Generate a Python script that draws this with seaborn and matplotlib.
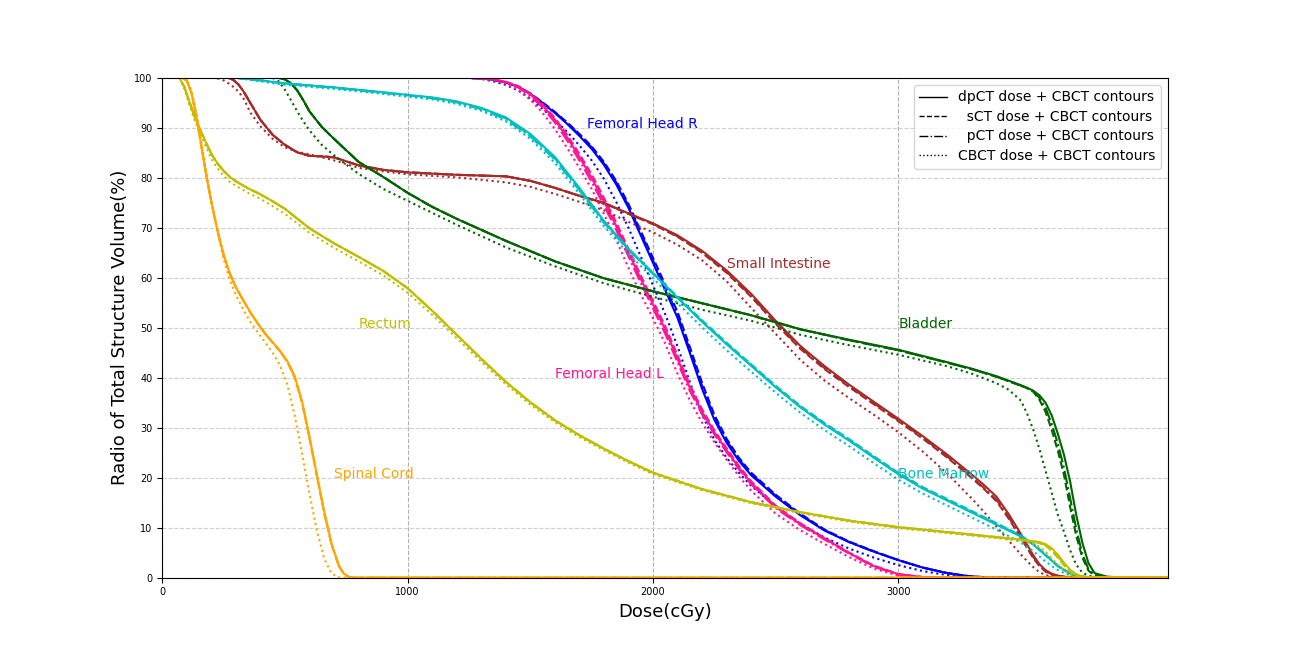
import pandas as pd
import matplotlib
matplotlib.use("Agg")
import matplotlib.pyplot as plt
from matplotlib.lines import Line2D
import seaborn as sns

# Spinal Cord
sp_dose = [0, 80, 100, 120, 140, 160, 180, 200, 225, 250, 275, 300, 330, 360, 390, 420, 450, 480, 510, 540, 570, 600, 630, 660, 690, 720, 740, 760, 780, 4100]
sp_dp = [100, 100, 99.5, 96.8, 92.0, 86.2, 80.3, 75.2, 69.5, 64.6, 60.9, 58.1, 55.5, 53.0, 50.8, 48.8, 47.1, 45.4, 43.3, 40.3, 35.2, 28.2, 20.6, 13.2, 6.8, 2.4, 0.8, 0.15, 0, 0]
sp_s = [100, 100, 99.5, 96.8, 92.0, 86.2, 80.3, 75.2, 69.5, 64.6, 60.9, 58.1, 55.5, 53.0, 50.8, 48.8, 47.0, 45.3, 43.1, 40.0, 34.9, 27.9, 20.3, 13.0, 6.6, 2.3, 0.7, 0.1, 0, 0]
sp_p = [100, 100, 99.5, 96.8, 92.0, 86.2, 80.3, 75.2, 69.5, 64.6, 60.9, 58.1, 55.5, 53.0, 50.8, 48.8, 47.0, 45.3, 43.2, 40.2, 35.1, 28.1, 20.5, 13.1, 6.7, 2.3, 0.8, 0.1, 0, 0]
sp_cb = [100, 100, 99.6, 97.3, 92.8, 87.0, 81.0, 75.3, 69.2, 63.8, 59.6, 56.6, 53.6, 51.1, 49.0, 47.0, 45.0, 42.5, 38.6, 32.4, 24.8, 16.8, 9.4, 3.8, 0.8, 0.05, 0, 0, 0, 0]

# Rectum
re_dose = [0, 70, 90, 110, 130, 150, 175, 200, 225, 250, 275, 300, 350, 400, 450, 500, 600, 700, 800, 900, 1000, 1100, 1200, 1300, 1400, 1500, 1600, 1700, 1800, 1900, 2000, 2200, 2400, 2600, 2800, 3000, 3200, 3400, 3500, 3550, 3575, 3600, 3625, 3650, 3675, 3700, 3725, 3750, 3800, 4100]
re_dp = [100, 100, 98.2, 95.3, 92.5, 90.1, 87.4, 84.8, 82.9, 81.4, 80.2, 79.3, 77.9, 76.7, 75.3, 73.8, 69.9, 66.9, 64.2, 61.4, 57.9, 53.4, 48.6, 43.8, 39.2, 35.1, 31.5, 28.5, 25.8, 23.3, 21.0, 17.7, 15.1, 13.1, 11.4, 10.1, 9.1, 8.1, 7.6, 7.3, 7.1, 6.7, 5.9, 4.6, 3.0, 1.6, 0.7, 0.2, 0, 0]
re_s = [100, 100, 98.2, 95.3, 92.5, 90.1, 87.4, 84.8, 82.9, 81.4, 80.2, 79.3, 77.9, 76.7, 75.3, 73.8, 69.9, 66.9, 64.2, 61.4, 57.9, 53.4, 48.6, 43.8, 39.2, 35.1, 31.5, 28.5, 25.8, 23.3, 21.0, 17.7, 15.1, 13.1, 11.4, 10.1, 9.1, 8.1, 7.6, 7.2, 6.9, 6.4, 5.4, 4.0, 2.5, 1.2, 0.5, 0.1, 0, 0]
re_p = [100, 100, 98.2, 95.3, 92.5, 90.1, 87.4, 84.8, 82.9, 81.4, 80.2, 79.3, 77.9, 76.7, 75.3, 73.8, 69.9, 66.9, 64.2, 61.4, 57.9, 53.4, 48.6, 43.8, 39.2, 35.1, 31.5, 28.5, 25.8, 23.3, 21.0, 17.7, 15.1, 13.1, 11.4, 10.1, 9.1, 8.1, 7.6, 7.2, 7.0, 6.5, 5.6, 4.3, 2.7, 1.4, 0.6, 0.15, 0, 0]
re_cb = [100, 100, 97.8, 94.7, 91.8, 89.4, 86.6, 83.8, 81.9, 80.4, 79.2, 78.4, 77.0, 75.8, 74.3, 72.8, 69.0, 66.0, 63.3, 60.5, 57.0, 52.6, 47.9, 43.2, 38.7, 34.6, 31.1, 28.1, 25.5, 23.0, 20.7, 17.5, 14.9, 12.9, 11.2, 9.9, 8.9, 7.9, 7.3, 6.8, 6.2, 5.2, 3.9, 2.6, 1.4, 0.6, 0.2, 0.05, 0, 0]

# Bladder
bl_dose = [0, 450, 475, 500, 525, 550, 575, 600, 650, 700, 800, 900, 1000, 1100, 1200, 1400, 1600, 1800, 2000, 2200, 2400, 2600, 2800, 3000, 3200, 3300, 3400, 3450, 3500, 3525, 3550, 3575, 3600, 3625, 3650, 3675, 3700, 3725, 3750, 3775, 3800, 3850, 3900, 4000, 4100]
bl_dp = [100, 100, 100, 99.7, 98.9, 97.5, 95.5, 93.3, 90.2, 87.8, 83.2, 80.2, 77.0, 74.2, 71.8, 67.4, 63.3, 59.9, 57.3, 54.9, 52.5, 49.7, 47.6, 45.6, 43.1, 41.8, 40.3, 39.4, 38.5, 38.0, 37.4, 36.5, 35.0, 32.5, 28.8, 24.6, 19.3, 12.6, 7.0, 2.9, 0.9, 0.2, 0.05, 0, 0]
bl_s = [100, 100, 100, 99.7, 98.9, 97.5, 95.5, 93.3, 90.2, 87.8, 83.2, 80.2, 77.0, 74.2, 71.8, 67.4, 63.3, 59.9, 57.3, 54.9, 52.5, 49.7, 47.5, 45.5, 43.0, 41.7, 40.2, 39.3, 38.4, 37.9, 37.2, 35.6, 33.2, 29.6, 25.4, 20.6, 14.2, 8.4, 4.0, 1.4, 0.4, 0.1, 0.03, 0, 0]
bl_p = [100, 100, 100, 99.7, 98.9, 97.5, 95.5, 93.3, 90.2, 87.8, 83.2, 80.2, 77.0, 74.2, 71.8, 67.4, 63.3, 59.9, 57.3, 54.9, 52.5, 49.7, 47.5, 45.5, 43.0, 41.7, 40.2, 39.3, 38.4, 37.9, 37.3, 36.0, 34.0, 30.8, 26.8, 22.0, 16.0, 9.8, 4.7, 1.7, 0.5, 0.1, 0.03, 0, 0]
bl_cb = [100, 100, 99.3, 97.6, 95.5, 93.3, 91.3, 89.5, 86.6, 84.5, 80.8, 77.8, 75.4, 73.0, 70.6, 66.1, 62.3, 58.9, 56.2, 53.6, 51.4, 48.6, 46.5, 44.6, 42.3, 40.8, 38.9, 37.6, 35.4, 32.8, 29.6, 25.8, 21.4, 17.0, 12.6, 9.2, 5.5, 2.6, 1.0, 0.4, 0.1, 0, 0, 0, 0]

# Small Intestine
si_dose = [0, 220, 250, 270, 290, 310, 330, 360, 400, 450, 500, 550, 600, 650, 700, 800, 900, 1000, 1200, 1400, 1500, 1600, 1700, 1800, 1900, 2000, 2100, 2200, 2300, 2400, 2500, 2600, 2700, 2800, 2900, 3000, 3100, 3200, 3300, 3350, 3400, 3450, 3500, 3525, 3550, 3575, 3600, 3625, 3650, 3700, 4100]
si_dp = [100, 100, 100, 100, 99.6, 98.7, 97.4, 94.9, 91.6, 88.6, 86.6, 85.1, 84.4, 84.3, 84.1, 82.5, 81.6, 81.1, 80.6, 80.3, 79.4, 78.0, 76.4, 75.0, 72.9, 70.9, 68.5, 65.4, 61.5, 56.8, 51.4, 46.4, 42.3, 38.6, 35.2, 31.8, 28.3, 24.6, 20.6, 18.5, 16.2, 12.7, 8.7, 6.6, 4.5, 2.7, 1.5, 0.8, 0.4, 0, 0]
si_s = [100, 100, 100, 100, 99.6, 98.7, 97.4, 94.9, 91.6, 88.6, 86.6, 85.1, 84.4, 84.3, 84.1, 82.5, 81.6, 81.1, 80.6, 80.3, 79.4, 78.0, 76.4, 74.9, 72.8, 70.7, 68.2, 65.0, 61.0, 56.2, 50.8, 45.8, 41.7, 38.1, 34.7, 31.3, 27.8, 24.0, 19.9, 17.7, 15.3, 11.8, 7.9, 5.9, 3.9, 2.3, 1.2, 0.6, 0.3, 0, 0]
si_p = [100, 100, 100, 100, 99.6, 98.7, 97.4, 94.9, 91.6, 88.6, 86.6, 85.1, 84.4, 84.3, 84.1, 82.5, 81.6, 81.1, 80.6, 80.3, 79.4, 78.0, 76.4, 75.0, 72.8, 70.8, 68.3, 65.2, 61.2, 56.4, 51.0, 46.0, 41.9, 38.3, 34.9, 31.5, 28.0, 24.2, 20.1, 17.9, 15.6, 12.1, 8.1, 6.1, 4.1, 2.5, 1.3, 0.7, 0.3, 0, 0]
si_cb = [100, 100, 99.5, 98.9, 98.2, 97.3, 96.0, 93.0, 90.3, 87.8, 86.1, 85.2, 84.7, 84.1, 83.5, 82.0, 81.3, 80.7, 80.1, 79.1, 78.2, 76.8, 75.2, 73.5, 71.2, 69.1, 66.6, 63.5, 59.3, 54.0, 48.8, 43.6, 39.4, 35.9, 32.6, 29.1, 25.2, 20.8, 15.8, 13.1, 10.2, 7.4, 4.6, 3.3, 2.1, 1.1, 0.5, 0.2, 0.05, 0, 0]

# Femoral heads (shared dose grid)
fh_dose = [0, 1250, 1300, 1350, 1400, 1450, 1500, 1550, 1600, 1650, 1700, 1750, 1800, 1850, 1900, 1950, 2000, 2050, 2100, 2150, 2200, 2250, 2300, 2350, 2400, 2500, 2600, 2700, 2800, 2900, 3000, 3100, 3200, 3300, 3400, 4100]
fhr_dp = [100, 100, 99.9, 99.6, 99.1, 98.2, 96.8, 94.9, 93.0, 90.8, 88.4, 85.8, 82.6, 78.7, 74.0, 68.5, 63.0, 57.5, 52.0, 45.0, 37.8, 31.6, 27.0, 23.4, 20.5, 16.2, 12.5, 9.4, 7.1, 5.2, 3.5, 2.0, 0.9, 0.2, 0, 0]
fhr_s = [100, 100, 99.9, 99.6, 99.1, 98.2, 96.9, 95.1, 93.2, 91.1, 88.8, 86.3, 83.2, 79.4, 74.8, 69.4, 64.0, 58.6, 53.2, 46.2, 39.0, 32.6, 27.8, 24.0, 21.0, 16.6, 12.8, 9.6, 7.2, 5.3, 3.5, 2.0, 0.9, 0.2, 0, 0]
fhr_p = [100, 100, 99.9, 99.6, 99.1, 98.2, 96.9, 95.0, 93.1, 91.0, 88.6, 86.1, 82.9, 79.1, 74.4, 69.0, 63.5, 58.1, 52.6, 45.6, 38.4, 32.1, 27.4, 23.7, 20.8, 16.4, 12.6, 9.5, 7.1, 5.2, 3.5, 2.0, 0.9, 0.2, 0, 0]
fhr_cb = [100, 100, 99.8, 99.3, 98.6, 97.5, 95.9, 93.8, 91.6, 89.2, 86.5, 83.5, 79.8, 75.2, 70.0, 64.3, 58.5, 52.7, 46.3, 39.2, 32.6, 27.6, 24.0, 21.0, 18.4, 14.2, 10.8, 8.0, 5.8, 4.0, 2.5, 1.3, 0.5, 0.1, 0, 0]
fhl_dp = [100, 100, 99.9, 99.7, 99.2, 98.3, 96.7, 94.5, 91.6, 88.1, 84.2, 80.0, 75.3, 70.4, 65.1, 59.8, 54.7, 49.6, 43.8, 38.0, 33.2, 29.1, 25.5, 22.0, 19.0, 14.2, 10.7, 7.8, 4.9, 2.3, 0.7, 0.1, 0, 0, 0, 0]
fhl_s = [100, 100, 99.9, 99.7, 99.2, 98.4, 96.9, 94.8, 92.0, 88.6, 84.8, 80.7, 76.0, 71.1, 65.8, 60.5, 55.4, 50.3, 44.5, 38.6, 33.7, 29.5, 25.9, 22.4, 19.3, 14.4, 10.9, 7.9, 5.0, 2.4, 0.7, 0.1, 0, 0, 0, 0]
fhl_p = [100, 100, 99.9, 99.6, 99.1, 98.1, 96.4, 94.1, 91.1, 87.5, 83.5, 79.2, 74.5, 69.6, 64.3, 59.0, 53.9, 48.8, 43.1, 37.4, 32.7, 28.7, 25.1, 21.7, 18.7, 13.9, 10.5, 7.6, 4.8, 2.2, 0.6, 0.1, 0, 0, 0, 0]
fhl_cb = [100, 100, 99.8, 99.5, 98.8, 97.6, 95.6, 93.0, 89.8, 86.0, 82.0, 77.8, 72.8, 67.6, 62.0, 56.7, 51.9, 46.8, 40.8, 35.5, 31.0, 27.1, 23.6, 20.3, 17.4, 12.8, 9.5, 6.7, 4.1, 1.8, 0.4, 0.05, 0, 0, 0, 0]

# Bone Marrow
bm_dose = [0, 300, 400, 500, 600, 700, 800, 900, 1000, 1100, 1200, 1300, 1400, 1500, 1600, 1700, 1800, 1900, 2000, 2100, 2200, 2300, 2400, 2500, 2600, 2700, 2800, 2900, 3000, 3100, 3200, 3300, 3400, 3500, 3550, 3600, 3650, 3700, 3750, 3800, 4100]
bm_dp = [100, 100, 99.5, 98.9, 98.5, 98.1, 97.6, 97.1, 96.6, 96.1, 95.3, 94.0, 92.1, 88.8, 84.2, 78.0, 71.4, 65.8, 60.9, 56.0, 51.2, 46.7, 42.4, 38.1, 34.1, 30.6, 27.4, 24.0, 20.7, 17.8, 15.4, 13.0, 10.6, 8.2, 6.6, 4.5, 2.3, 0.8, 0.2, 0, 0]
bm_s = [100, 100, 99.5, 98.9, 98.5, 98.1, 97.6, 97.1, 96.6, 96.0, 95.2, 93.9, 91.9, 88.5, 83.9, 77.7, 71.2, 65.8, 61.0, 56.2, 51.5, 47.0, 42.7, 38.4, 34.4, 30.9, 27.7, 24.3, 21.0, 18.1, 15.7, 13.3, 10.9, 8.4, 6.8, 4.6, 2.4, 0.8, 0.2, 0, 0]
bm_p = [100, 100, 99.5, 98.9, 98.4, 98.0, 97.5, 97.0, 96.5, 95.9, 95.1, 93.7, 91.7, 88.3, 83.7, 77.5, 71.0, 65.6, 60.8, 56.0, 51.3, 46.8, 42.5, 38.2, 34.2, 30.7, 27.5, 24.1, 20.8, 17.9, 15.5, 13.1, 10.7, 8.3, 6.7, 4.5, 2.3, 0.8, 0.2, 0, 0]
bm_cb = [100, 100, 99.3, 98.6, 98.2, 97.8, 97.3, 96.8, 96.2, 95.7, 94.8, 93.4, 91.3, 87.8, 83.0, 76.8, 70.3, 64.8, 59.9, 54.9, 50.1, 45.5, 41.2, 37.0, 33.0, 29.5, 26.3, 22.9, 19.6, 16.8, 14.4, 12.0, 9.6, 7.0, 5.3, 3.2, 1.5, 0.4, 0.05, 0, 0]

structures = ['Femoral Head R', 'Femoral Head L', 'Small Intestine', 'Bladder',
              'Bone Marrow', 'Rectum', 'Spinal Cord']
colors = ['blue', 'deeppink', 'brown', 'darkgreen', 'c', 'y', 'orange']
plans = ['dpCT', 'sCT', 'pCT', 'CBCT']
legend_labels = ['dpCT dose + CBCT contours', '  sCT dose + CBCT contours',
                 '  pCT dose + CBCT contours', 'CBCT dose + CBCT contours']
label_x = [1730, 1600, 2300, 3000, 3000, 800, 700]
label_y = [90, 40, 62, 50, 20, 50, 20]

curves = {
    'Femoral Head R': (fh_dose, [fhr_dp, fhr_s, fhr_p, fhr_cb]),
    'Femoral Head L': (fh_dose, [fhl_dp, fhl_s, fhl_p, fhl_cb]),
    'Small Intestine': (si_dose, [si_dp, si_s, si_p, si_cb]),
    'Bladder': (bl_dose, [bl_dp, bl_s, bl_p, bl_cb]),
    'Bone Marrow': (bm_dose, [bm_dp, bm_s, bm_p, bm_cb]),
    'Rectum': (re_dose, [re_dp, re_s, re_p, re_cb]),
    'Spinal Cord': (sp_dose, [sp_dp, sp_s, sp_p, sp_cb]),
}

rows = []
for name in structures:
    dose, series = curves[name]
    for plan, vols in zip(plans, series):
        for d, v in zip(dose, vols):
            rows.append({'structure': name, 'plan': plan, 'dose': d, 'volume': v})
df = pd.DataFrame(rows)

dashes = {'dpCT': '', 'sCT': (3.7, 1.6), 'pCT': (6.4, 1.6, 1, 1.6), 'CBCT': (1, 1.65)}

fig, ax = plt.subplots(figsize=(12.98, 6.49), dpi=100)
sns.lineplot(data=df, x='dose', y='volume', hue='structure', style='plan',
             hue_order=structures, palette=dict(zip(structures, colors)),
             style_order=plans, dashes=dashes, estimator=None, sort=False,
             legend=False, lw=1.5, ax=ax)

for name, c, tx, ty in zip(structures, colors, label_x, label_y):
    ax.text(tx, ty, name, color=c, fontsize=10)

ax.set_xlim(0, 4100)
ax.set_ylim(0, 100)
ax.set_xticks([0, 1000, 2000, 3000])
ax.set_yticks(range(0, 101, 10))
ax.tick_params(labelsize=7)
ax.xaxis.grid(True, linestyle='--', color='#b0b0b0', lw=0.8)
ax.yaxis.grid(True, linestyle='--', color='#d0d0d0', lw=0.8)
ax.set_xlabel('Dose(cGy)', fontsize=13)
ax.set_ylabel('Radio of Total Structure Volume(%)', fontsize=13)

handles = [Line2D([0], [0], color='black', lw=1, linestyle=ls)
           for ls in ['-', '--', '-.', ':']]
ax.legend(handles, legend_labels, loc='upper right', fontsize=10, labelspacing=0.4)

fig.savefig('out.png', dpi=100)
